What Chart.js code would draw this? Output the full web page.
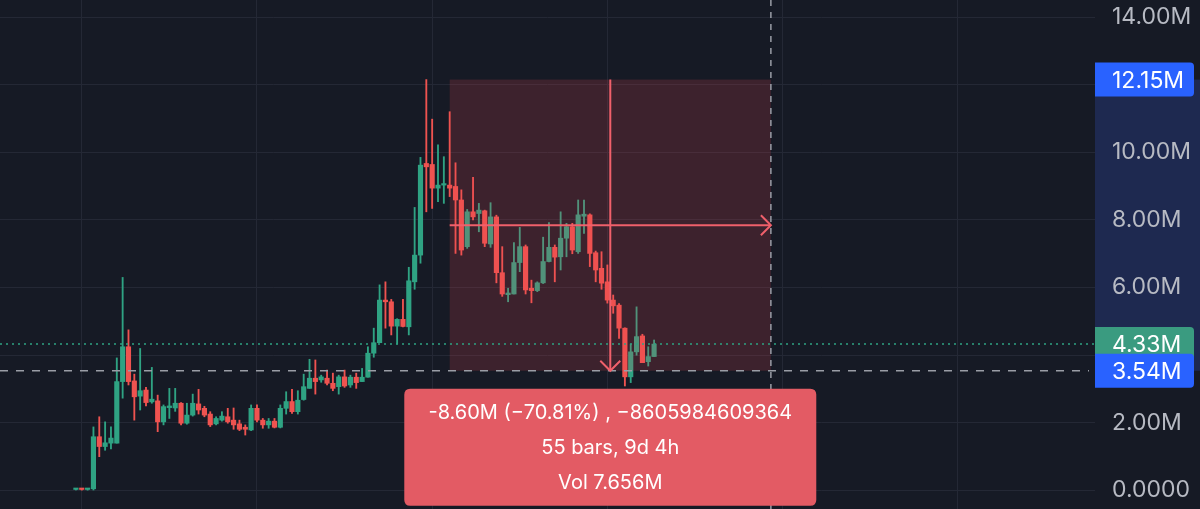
<!DOCTYPE html>
<html>
<head>
<meta charset="utf-8">
<script src="https://cdn.jsdelivr.net/npm/chart.js@4.4.1/dist/chart.umd.min.js"></script>
<style>
html, body { margin: 0; padding: 0; background: #161a25; }
#wrap { width: 1200px; height: 509px; position: relative; }
</style>
</head>
<body>
<div id="wrap"><canvas id="chart"></canvas></div>
<script>
// 4h candles, values in millions
const opens = [
  0.03, 0.05, 0.03, 0.05, 1.59, 1.30, 1.40, 1.40, 3.22, 4.25,
  3.24, 2.79, 2.97, 2.62, 2.65, 2.03, 2.45, 2.44, 2.58, 1.99,
  2.23, 2.56, 2.43, 2.26, 1.97, 2.08, 2.18, 2.08, 1.97, 1.87,
  1.79, 2.43, 2.08, 1.94, 2.05, 1.87, 2.43, 2.63, 2.33, 2.69,
  3.02, 3.32, 3.27, 3.32, 3.17, 3.07, 3.36, 3.12, 3.35, 3.22,
  3.35, 4.06, 4.37, 5.63, 5.58, 4.86, 5.06, 4.84, 6.17, 6.96,
  9.67, 9.64, 8.94, 9.03, 9.03, 8.99, 8.59, 7.21, 8.24, 8.19,
  8.27, 7.29, 8.09, 6.44, 5.79, 5.81, 6.74, 7.21, 5.98, 5.91,
  6.14, 6.77, 7.19, 6.91, 7.46, 7.80, 7.06, 8.11, 8.15, 7.03,
  6.57, 6.17, 5.63, 5.48, 4.80, 3.36, 4.10, 4.57, 3.81, 3.96
];
const highs = [
  0.06, 0.06, 0.06, 1.88, 2.18, 2.03, 1.88, 3.92, 6.30, 4.75,
  3.44, 4.20, 3.05, 3.64, 2.82, 2.53, 3.02, 3.02, 2.60, 2.58,
  2.85, 2.99, 2.49, 2.33, 2.18, 2.33, 2.43, 2.44, 2.08, 1.94,
  2.53, 2.53, 2.13, 2.13, 2.13, 2.53, 2.92, 2.99, 2.95, 3.44,
  3.88, 3.86, 3.41, 3.56, 3.47, 3.41, 3.56, 3.41, 3.47, 3.61,
  4.25, 4.80, 6.08, 6.17, 5.65, 5.08, 5.65, 6.60, 8.37, 9.85,
  12.15, 10.98, 10.22, 9.87, 11.20, 9.69, 8.89, 8.31, 9.26, 8.49,
  8.29, 8.51, 8.14, 7.21, 5.98, 7.33, 7.78, 7.26, 6.22, 6.17,
  7.49, 7.92, 7.26, 8.24, 7.90, 7.90, 8.59, 8.59, 8.18, 7.08,
  7.06, 6.67, 5.78, 5.53, 4.81, 4.33, 5.43, 4.62, 4.25, 4.45
];
const lows = [
  0.00, 0.01, 0.01, 0.00, 1.00, 1.19, 1.23, 1.40, 2.73, 3.12,
  2.08, 2.38, 2.50, 2.58, 1.74, 1.94, 2.13, 2.34, 1.94, 1.96,
  2.20, 2.26, 2.18, 1.89, 1.94, 2.05, 1.99, 1.81, 1.77, 1.64,
  1.77, 2.03, 1.84, 1.84, 1.85, 1.85, 2.26, 2.28, 2.26, 2.67,
  3.02, 2.85, 3.20, 3.12, 2.95, 2.85, 3.05, 3.05, 3.02, 3.22,
  3.35, 3.94, 4.37, 4.80, 4.60, 4.33, 4.84, 4.60, 5.95, 6.72,
  8.24, 8.34, 8.54, 8.49, 8.69, 7.01, 6.96, 7.16, 8.00, 7.65,
  7.21, 7.19, 6.14, 5.74, 5.58, 5.81, 6.47, 5.81, 5.55, 5.88,
  6.12, 6.76, 6.17, 6.52, 6.91, 7.00, 7.01, 7.60, 6.62, 6.17,
  5.95, 5.54, 5.24, 4.50, 3.09, 3.19, 4.00, 3.78, 3.68, 3.96
];
const closes = [
  0.04, 0.03, 0.05, 1.59, 1.30, 1.41, 1.55, 3.22, 4.25, 3.22,
  2.77, 2.95, 2.60, 2.70, 2.03, 2.48, 2.50, 2.58, 1.99, 2.23,
  2.58, 2.38, 2.23, 1.94, 2.13, 2.20, 2.03, 1.94, 1.81, 1.81,
  2.43, 2.08, 1.94, 2.05, 1.87, 2.43, 2.63, 2.33, 2.67, 3.07,
  3.32, 3.22, 3.36, 3.17, 3.02, 3.36, 3.09, 3.35, 3.19, 3.35,
  4.06, 4.37, 5.63, 5.58, 4.86, 5.06, 4.85, 6.20, 6.96, 9.62,
  9.57, 8.94, 9.03, 9.07, 8.94, 8.59, 7.11, 8.24, 8.09, 8.29,
  7.31, 8.09, 6.44, 5.81, 5.84, 6.74, 7.21, 5.93, 5.91, 6.14,
  6.77, 7.19, 6.90, 7.46, 7.80, 7.11, 8.15, 8.17, 7.01, 6.52,
  6.13, 5.63, 5.46, 4.80, 3.36, 4.10, 4.55, 3.78, 3.96, 4.33
];

const yTicks = [0, 2, 4, 6, 8, 10, 12, 14];
const xGrid = [1, 31, 61, 91, 121, 151];

// price range measurement drawn on the chart
const measureStart = 64, measureEnd = 119;
const measureHigh = 12.15, measureLow = 3.54;
const lastPrice = 4.33;
const tipLines = ['-8.60M (\u221270.81%) , \u22128605984609364', '55 bars, 9d 4h', 'Vol 7.656M'];

const UP = '#2fa383', DOWN = '#ef5350';
const FONT = 'Inter, "Noto Sans", sans-serif';

const idx = opens.map((_, i) => i);
const candleColor = i => closes[i] >= opens[i] ? UP : DOWN;

function rrect(ctx, x, y, w, h, r) {
  ctx.beginPath();
  ctx.moveTo(x + r[0], y);
  ctx.lineTo(x + w - r[1], y);
  ctx.quadraticCurveTo(x + w, y, x + w, y + r[1]);
  ctx.lineTo(x + w, y + h - r[2]);
  ctx.quadraticCurveTo(x + w, y + h, x + w - r[2], y + h);
  ctx.lineTo(x + r[3], y + h);
  ctx.quadraticCurveTo(x, y + h, x, y + h - r[3]);
  ctx.lineTo(x, y + r[0]);
  ctx.quadraticCurveTo(x, y, x + r[0], y);
  ctx.closePath();
}

const overlay = {
  id: 'overlay',
  beforeDraw(chart) {
    const { ctx, chartArea: a } = chart;
    const y = chart.scales.y;
    const t = y.getPixelForValue(measureHigh), b = y.getPixelForValue(measureLow);
    ctx.save();
    ctx.fillStyle = '#1e2950';
    ctx.fillRect(a.right, t, chart.width - a.right, b - t);
    ctx.restore();
  },
  afterDatasetsDraw(chart) {
    const { ctx, chartArea: a } = chart;
    const x = chart.scales.x, y = chart.scales.y;
    const x1 = x.getPixelForValue(measureStart), x2 = x.getPixelForValue(measureEnd);
    const y1 = y.getPixelForValue(measureHigh), y2 = y.getPixelForValue(measureLow);
    const xm = (x1 + x2) / 2, ym = (y1 + y2) / 2;
    ctx.save();
    // box
    ctx.fillStyle = 'rgba(240,70,85,0.18)';
    ctx.fillRect(x1, y1, x2 - x1, y2 - y1);
    // last price dotted line
    const yl = y.getPixelForValue(lastPrice);
    ctx.strokeStyle = UP;
    ctx.lineWidth = 1.5;
    ctx.setLineDash([2, 4]);
    ctx.beginPath(); ctx.moveTo(a.left, yl); ctx.lineTo(a.right, yl); ctx.stroke();
    // crosshair
    ctx.strokeStyle = '#9a9da6';
    ctx.setLineDash([8, 8]);
    ctx.beginPath(); ctx.moveTo(a.left, y2); ctx.lineTo(a.right - 6, y2); ctx.stroke();
    ctx.setLineDash([6, 6]);
    ctx.beginPath(); ctx.moveTo(x2, 0); ctx.lineTo(x2, chart.height); ctx.stroke();
    // arrows
    ctx.setLineDash([]);
    ctx.strokeStyle = '#f0606b';
    ctx.lineWidth = 2;
    ctx.beginPath(); ctx.moveTo(xm, y1); ctx.lineTo(xm, y2); ctx.stroke();
    ctx.beginPath(); ctx.moveTo(xm - 10, y2 - 10); ctx.lineTo(xm, y2); ctx.lineTo(xm + 10, y2 - 10); ctx.stroke();
    ctx.beginPath(); ctx.moveTo(x1, ym); ctx.lineTo(x2, ym); ctx.stroke();
    ctx.beginPath(); ctx.moveTo(x2 - 10, ym - 10); ctx.lineTo(x2, ym); ctx.lineTo(x2 - 10, ym + 10); ctx.stroke();
    ctx.restore();
  },
  afterDraw(chart) {
    const { ctx, chartArea: a } = chart;
    const x = chart.scales.x, y = chart.scales.y;
    ctx.save();
    const badge = (v, color) => {
      const py = y.getPixelForValue(v);
      ctx.fillStyle = color;
      rrect(ctx, a.right, py - 17, 99, 34, [0, 4, 4, 0]);
      ctx.fill();
      ctx.fillStyle = '#ffffff';
      ctx.font = '23px ' + FONT;
      ctx.textAlign = 'left';
      ctx.textBaseline = 'middle';
      ctx.fillText(v.toFixed(2) + 'M', a.right + 17, py + 1);
    };
    badge(measureHigh, '#2962ff');
    badge(lastPrice, '#3a9b80');
    badge(measureLow, '#2962ff');

    // measurement label
    const x1 = x.getPixelForValue(measureStart), x2 = x.getPixelForValue(measureEnd);
    const xm = (x1 + x2) / 2;
    const top = y.getPixelForValue(measureLow) + 18;
    ctx.fillStyle = '#e35b64';
    rrect(ctx, xm - 206, top, 412, 117, [6, 6, 6, 6]);
    ctx.fill();
    ctx.fillStyle = '#ffffff';
    ctx.font = '20px ' + FONT;
    ctx.textAlign = 'center';
    ctx.textBaseline = 'middle';
    tipLines.forEach((t, i) => ctx.fillText(t, xm, top + 24 + i * 35));
    ctx.restore();
  }
};

new Chart(document.getElementById('chart'), {
  type: 'bar',
  data: {
    datasets: [
      {
        data: idx.map(i => ({ x: i, y: [opens[i], closes[i]] })),
        backgroundColor: c => candleColor(c.dataIndex),
        barThickness: 4.5,
        minBarLength: 1.5,
        grouped: false
      },
      {
        data: idx.map(i => ({ x: i, y: [lows[i], highs[i]] })),
        backgroundColor: c => candleColor(c.dataIndex),
        barThickness: 1.2,
        grouped: false
      }
    ]
  },
  options: {
    responsive: true,
    maintainAspectRatio: false,
    animation: false,
    layout: { padding: 0 },
    plugins: { legend: { display: false }, tooltip: { enabled: false } },
    scales: {
      x: {
        type: 'linear',
        min: -13,
        max: 174.5,
        offset: false,
        afterBuildTicks: s => { s.ticks = xGrid.map(v => ({ value: v })); },
        afterFit: s => { s.height = 0; s.paddingLeft = 0; s.paddingRight = 0; },
        ticks: { display: false },
        grid: { color: '#242835', drawTicks: false, offset: false },
        border: { display: false }
      },
      y: {
        position: 'right',
        min: -0.547,
        max: 14.503,
        afterBuildTicks: s => { s.ticks = yTicks.map(v => ({ value: v })); },
        afterFit: s => { s.width = 105; s.paddingTop = 0; s.paddingBottom = 0; },
        ticks: {
          color: '#b7bac3',
          padding: 17,
          font: { family: FONT, size: 23 },
          callback: v => v === 0 ? '0.0000' : v.toFixed(2) + 'M'
        },
        grid: { color: '#242835', drawTicks: false },
        border: { display: false }
      }
    }
  },
  plugins: [overlay]
});
</script>
</body>
</html>
